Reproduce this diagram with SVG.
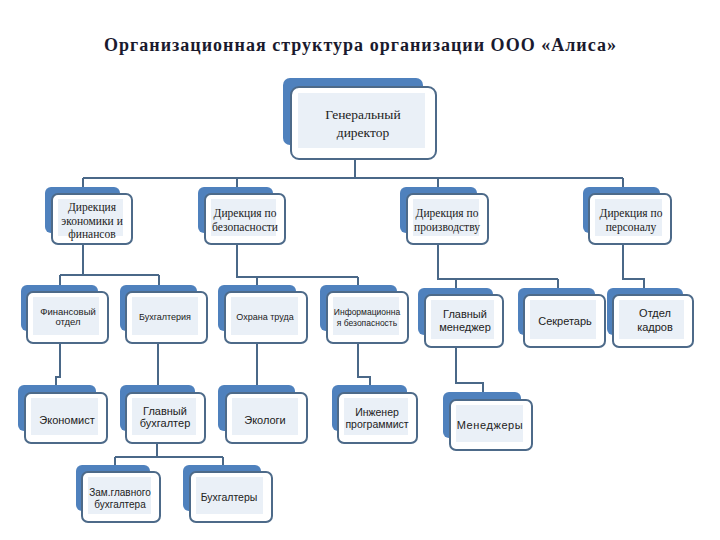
<svg xmlns="http://www.w3.org/2000/svg" width="720" height="540" viewBox="0 0 720 540">
<style>
.bk{fill:#4f81bd;}
.fr{fill:#ffffff;stroke:#4d6a89;stroke-width:2;}
.in{fill:#eaf0f7;}
.title{font-family:"Liberation Serif","Times New Roman",serif;font-weight:bold;font-size:18px;fill:#1a1a2e;}
.sf{font-family:"Liberation Serif","Times New Roman",serif;fill:#222;text-anchor:middle;}
.ss{font-family:"Liberation Sans",Arial,sans-serif;fill:#222;text-anchor:middle;}
.cn{fill:none;stroke:#4a6888;stroke-width:2;}
</style>
<rect width="720" height="540" fill="#ffffff"/>
<text class="title" x="360" y="51" text-anchor="middle" textLength="512" lengthAdjust="spacing">Организационная структура организации ООО «Алиса»</text>

<g id="connectors">
<path class="cn" d="M355 159 V178 M83 178 H623 M83 178 V187 M237 178 V187 M438 178 V187 M623 178 V187"/>
<path class="cn" d="M83 244 V275 M60 275 H159 M60 275 V285 M159 275 V285"/>
<path class="cn" d="M237 244 V277 H358 M257 277 V285 M358 277 V285"/>
<path class="cn" d="M438 244 V279 H558 M456 279 V288 M558 279 V288"/>
<path class="cn" d="M623 244 V279 H644 V288"/>
<path class="cn" d="M60 343 V377 H56 V386 M158 343 V386 M257 343 V386 M358 343 V377 H370 V386 M456 347 V383 H483 V393"/>
<path class="cn" d="M157 443 V457 M115 457 H223 M115 457 V465 M223 457 V465"/>
</g>

<g id="n-gen">
<rect class="bk" x="283" y="78" width="140" height="67" rx="7"/>
<rect class="fr" x="291" y="87" width="145" height="72" rx="8"/>
<rect class="in" x="298" y="93" width="127" height="55"/>
<text class="sf" font-size="13.5" x="363" y="119">Генеральный</text>
<text class="sf" font-size="13.5" x="363" y="137">директор</text>
</g>

<g id="n-econ">
<rect class="bk" x="45" y="187" width="75" height="46" rx="6"/>
<rect class="fr" x="52" y="194" width="80" height="50" rx="6"/>
<rect class="in" x="58" y="199" width="65" height="37"/>
<text class="sf" font-size="11.5" x="92" y="211">Дирекция</text>
<text class="sf" font-size="11.5" x="92" y="225">экономики и</text>
<text class="sf" font-size="11.5" x="92" y="238">финансов</text>
</g>

<g id="n-sec">
<rect class="bk" x="198" y="187" width="75" height="46" rx="6"/>
<rect class="fr" x="205" y="194" width="80" height="50" rx="6"/>
<rect class="in" x="211" y="199" width="65" height="37"/>
<text class="sf" font-size="11.5" x="245" y="217">Дирекция по</text>
<text class="sf" font-size="11.5" x="245" y="231">безопасности</text>
</g>

<g id="n-prod">
<rect class="bk" x="400" y="187" width="77" height="46" rx="6"/>
<rect class="fr" x="407" y="194" width="81" height="50" rx="6"/>
<rect class="in" x="413" y="199" width="66" height="37"/>
<text class="sf" font-size="11.5" x="447" y="217">Дирекция по</text>
<text class="sf" font-size="11.5" x="447" y="231">производству</text>
</g>

<g id="n-pers">
<rect class="bk" x="583" y="187" width="77" height="46" rx="6"/>
<rect class="fr" x="589" y="194" width="82" height="50" rx="6"/>
<rect class="in" x="595" y="199" width="67" height="37"/>
<text class="sf" font-size="11.5" x="631" y="217">Дирекция по</text>
<text class="sf" font-size="11.5" x="631" y="231">персоналу</text>
</g>

<g id="n-fin">
<rect class="bk" x="21" y="285" width="77" height="46" rx="6"/>
<rect class="fr" x="27" y="292" width="81" height="51" rx="6"/>
<rect class="in" x="33" y="297" width="66" height="38"/>
<text class="ss" font-size="9.5" x="68" y="315">Финансовый</text>
<text class="ss" font-size="9.5" x="68" y="325">отдел</text>
</g>

<g id="n-buh">
<rect class="bk" x="120" y="285" width="77" height="46" rx="6"/>
<rect class="fr" x="126" y="292" width="81" height="51" rx="6"/>
<rect class="in" x="132" y="297" width="66" height="38"/>
<text class="ss" font-size="9" x="165" y="320">Бухгалтерия</text>
</g>

<g id="n-ohr">
<rect class="bk" x="218" y="285" width="78" height="46" rx="6"/>
<rect class="fr" x="225" y="292" width="82" height="51" rx="6"/>
<rect class="in" x="231" y="297" width="67" height="38"/>
<text class="ss" font-size="9" x="265" y="320">Охрана труда</text>
</g>

<g id="n-info">
<rect class="bk" x="320" y="285" width="77" height="46" rx="6"/>
<rect class="fr" x="327" y="292" width="81" height="51" rx="6"/>
<rect class="in" x="333" y="297" width="66" height="38"/>
<text class="ss" font-size="8.5" x="367" y="315">Информационна</text>
<text class="ss" font-size="8.5" x="367" y="326">я безопасность</text>
</g>

<g id="n-glman">
<rect class="bk" x="418" y="288" width="75" height="47" rx="6"/>
<rect class="fr" x="425" y="295" width="78" height="52" rx="6"/>
<rect class="in" x="431" y="300" width="63" height="39"/>
<text class="ss" font-size="11" x="465" y="318">Главный</text>
<text class="ss" font-size="11" x="465" y="331">менеджер</text>
</g>

<g id="n-secr">
<rect class="bk" x="518" y="288" width="77" height="47" rx="6"/>
<rect class="fr" x="524" y="295" width="81" height="52" rx="6"/>
<rect class="in" x="530" y="300" width="66" height="39"/>
<text class="ss" font-size="11" x="565" y="325">Секретарь</text>
</g>

<g id="n-kadr">
<rect class="bk" x="607" y="288" width="76" height="47" rx="6"/>
<rect class="fr" x="613" y="295" width="80" height="52" rx="6"/>
<rect class="in" x="619" y="300" width="65" height="39"/>
<text class="ss" font-size="11" x="655" y="317">Отдел</text>
<text class="ss" font-size="11" x="655" y="331">кадров</text>
</g>

<g id="n-econ2">
<rect class="bk" x="18" y="385" width="78" height="46" rx="6"/>
<rect class="fr" x="25" y="393" width="82" height="50" rx="6"/>
<rect class="in" x="31" y="398" width="67" height="37"/>
<text class="ss" font-size="11" x="67" y="424">Экономист</text>
</g>

<g id="n-glbuh">
<rect class="bk" x="120" y="385" width="75" height="46" rx="6"/>
<rect class="fr" x="126" y="393" width="79" height="50" rx="6"/>
<rect class="in" x="132" y="398" width="64" height="37"/>
<text class="ss" font-size="11" x="165" y="415">Главный</text>
<text class="ss" font-size="11" x="165" y="427">бухгалтер</text>
</g>

<g id="n-ekol">
<rect class="bk" x="218" y="385" width="77" height="46" rx="6"/>
<rect class="fr" x="226" y="393" width="81" height="50" rx="6"/>
<rect class="in" x="232" y="398" width="66" height="37"/>
<text class="ss" font-size="11" x="265" y="424">Экологи</text>
</g>

<g id="n-ing">
<rect class="bk" x="332" y="385" width="75" height="46" rx="6"/>
<rect class="fr" x="338" y="393" width="79" height="50" rx="6"/>
<rect class="in" x="344" y="398" width="64" height="37"/>
<text class="ss" font-size="10.5" x="377" y="416">Инженер</text>
<text class="ss" font-size="10.5" x="377" y="428">программист</text>
</g>

<g id="n-men">
<rect class="bk" x="443" y="392" width="78" height="46" rx="6"/>
<rect class="fr" x="450" y="400" width="82" height="50" rx="6"/>
<rect class="in" x="456" y="405" width="67" height="37"/>
<text class="ss" font-size="11" x="490" y="429" letter-spacing="0.6">Менеджеры</text>
</g>

<g id="n-zam">
<rect class="bk" x="76" y="465" width="74" height="46" rx="6"/>
<rect class="fr" x="82" y="472" width="78" height="50" rx="6"/>
<rect class="in" x="88" y="477" width="63" height="37"/>
<text class="ss" font-size="10" x="120" y="496">Зам.главного</text>
<text class="ss" font-size="10" x="120" y="508">бухгалтера</text>
</g>

<g id="n-buhs">
<rect class="bk" x="183" y="465" width="78" height="46" rx="6"/>
<rect class="fr" x="190" y="472" width="82" height="50" rx="6"/>
<rect class="in" x="196" y="477" width="67" height="37"/>
<text class="ss" font-size="10.5" x="229" y="501">Бухгалтеры</text>
</g>
</svg>
